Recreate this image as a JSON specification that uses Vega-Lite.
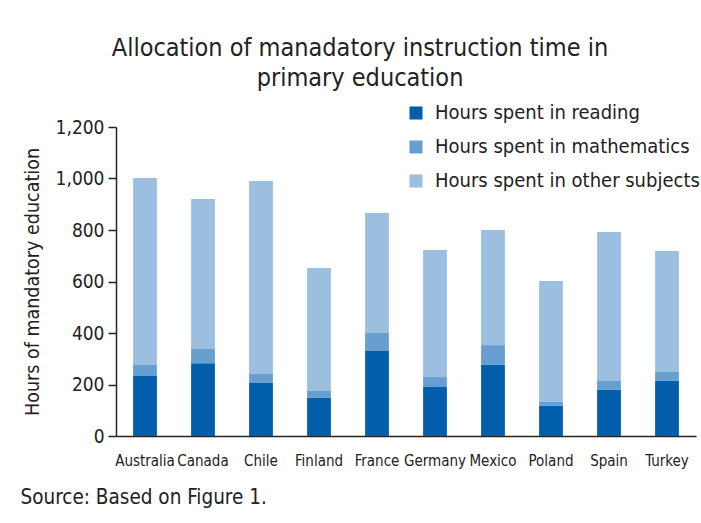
{
  "$schema": "https://vega.github.io/schema/vega-lite/v6.json",
  "width": 580,
  "height": 309,
  "padding": {"left": 20, "top": 36, "right": 4, "bottom": 4},
  "background": "white",
  "title": {
    "text": ["Allocation of manadatory instruction time in", "primary education"],
    "fontSize": 25,
    "fontWeight": "normal",
    "font": "DejaVu Sans Condensed",
    "color": "#222222",
    "anchor": "middle",
    "frame": "bounds",
    "lineHeight": 30,
    "offset": 12
  },
  "data": {
    "values": [
      {"country": "Australia", "category": "Hours spent in reading", "seq": 1, "hours": 233},
      {"country": "Australia", "category": "Hours spent in mathematics", "seq": 2, "hours": 43},
      {"country": "Australia", "category": "Hours spent in other subjects", "seq": 3, "hours": 726},
      {"country": "Canada", "category": "Hours spent in reading", "seq": 1, "hours": 283},
      {"country": "Canada", "category": "Hours spent in mathematics", "seq": 2, "hours": 55},
      {"country": "Canada", "category": "Hours spent in other subjects", "seq": 3, "hours": 582},
      {"country": "Chile", "category": "Hours spent in reading", "seq": 1, "hours": 206},
      {"country": "Chile", "category": "Hours spent in mathematics", "seq": 2, "hours": 35},
      {"country": "Chile", "category": "Hours spent in other subjects", "seq": 3, "hours": 749},
      {"country": "Finland", "category": "Hours spent in reading", "seq": 1, "hours": 148},
      {"country": "Finland", "category": "Hours spent in mathematics", "seq": 2, "hours": 27},
      {"country": "Finland", "category": "Hours spent in other subjects", "seq": 3, "hours": 477},
      {"country": "France", "category": "Hours spent in reading", "seq": 1, "hours": 330},
      {"country": "France", "category": "Hours spent in mathematics", "seq": 2, "hours": 70},
      {"country": "France", "category": "Hours spent in other subjects", "seq": 3, "hours": 466},
      {"country": "Germany", "category": "Hours spent in reading", "seq": 1, "hours": 190},
      {"country": "Germany", "category": "Hours spent in mathematics", "seq": 2, "hours": 39},
      {"country": "Germany", "category": "Hours spent in other subjects", "seq": 3, "hours": 493},
      {"country": "Mexico", "category": "Hours spent in reading", "seq": 1, "hours": 276},
      {"country": "Mexico", "category": "Hours spent in mathematics", "seq": 2, "hours": 77},
      {"country": "Mexico", "category": "Hours spent in other subjects", "seq": 3, "hours": 447},
      {"country": "Poland", "category": "Hours spent in reading", "seq": 1, "hours": 117},
      {"country": "Poland", "category": "Hours spent in mathematics", "seq": 2, "hours": 15},
      {"country": "Poland", "category": "Hours spent in other subjects", "seq": 3, "hours": 470},
      {"country": "Spain", "category": "Hours spent in reading", "seq": 1, "hours": 179},
      {"country": "Spain", "category": "Hours spent in mathematics", "seq": 2, "hours": 35},
      {"country": "Spain", "category": "Hours spent in other subjects", "seq": 3, "hours": 578},
      {"country": "Turkey", "category": "Hours spent in reading", "seq": 1, "hours": 214},
      {"country": "Turkey", "category": "Hours spent in mathematics", "seq": 2, "hours": 35},
      {"country": "Turkey", "category": "Hours spent in other subjects", "seq": 3, "hours": 469}
    ]
  },
  "mark": {"type": "bar"},
  "encoding": {
    "x": {
      "field": "country",
      "type": "nominal",
      "sort": null,
      "scale": {"paddingInner": 0.59, "paddingOuter": 0.295},
      "axis": {
        "title": "Source: Based on Figure 1.",
        "titleFontSize": 20.5,
        "titleFontWeight": "normal",
        "titleColor": "#222222",
        "titleAnchor": "start",
        "titleAlign": "left",
        "titleBaseline": "middle",
        "titleX": -96,
        "titleY": 61,
        "labelAngle": 0,
        "ticks": false,
        "labelFontSize": 15,
        "labelColor": "#222222",
        "labelPadding": 24,
        "labelBaseline": "middle",
        "labelLimit": 100,
        "domainColor": "#222222",
        "domainWidth": 1.5
      }
    },
    "y": {
      "field": "hours",
      "type": "quantitative",
      "stack": "zero",
      "scale": {"domain": [0, 1200]},
      "axis": {
        "values": [0, 200, 400, 600, 800, 1000, 1200],
        "format": ",.0f",
        "grid": false,
        "title": "Hours of mandatory education",
        "titleFontSize": 19.5,
        "titleFontWeight": "normal",
        "titleColor": "#222222",
        "titlePadding": 13,
        "labelFontSize": 19,
        "labelColor": "#222222",
        "labelPadding": 4,
        "tickSize": 8,
        "tickColor": "#222222",
        "tickWidth": 1.5,
        "domainColor": "#222222",
        "domainWidth": 1.5
      }
    },
    "color": {
      "field": "category",
      "type": "nominal",
      "scale": {
        "domain": ["Hours spent in reading", "Hours spent in mathematics", "Hours spent in other subjects"],
        "range": ["#005EAA", "#669FD0", "#9DBFDF"]
      },
      "legend": {
        "title": null,
        "orient": "none",
        "legendX": 290,
        "legendY": -24,
        "symbolType": "square",
        "symbolSize": 170,
        "symbolStrokeWidth": 0,
        "labelFontSize": 20,
        "labelColor": "#222222",
        "labelOffset": 9,
        "labelLimit": 400,
        "rowPadding": 14
      }
    },
    "order": {"field": "seq", "type": "quantitative"}
  },
  "config": {
    "view": {"stroke": null},
    "font": "DejaVu Sans Condensed"
  }
}
